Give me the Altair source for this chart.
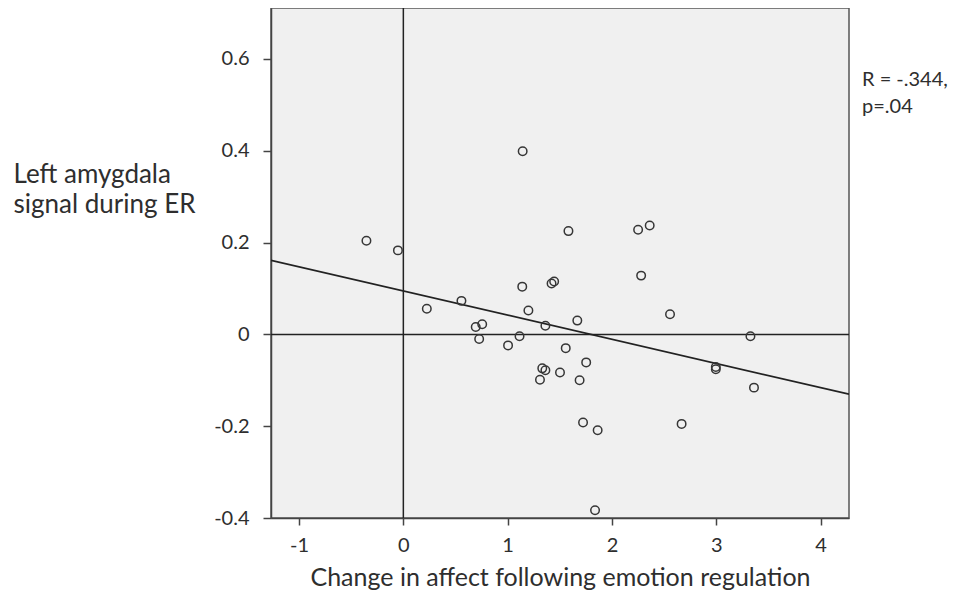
import altair as alt
import pandas as pd

# Data
change_in_affect = [1.144, -0.354, -0.052, 1.583, 2.251, 2.362, 2.280, 1.421, 1.446, 1.140,
                    0.557, 0.225, 1.199, 2.557, 1.668, 1.362, 0.694, 0.756, 1.114, 0.727,
                    1.004, 1.557, 3.328, 1.753, 1.332, 1.362, 1.502, 1.310, 1.690, 2.996,
                    2.996, 3.362, 1.723, 1.863, 2.668, 1.838]
amygdala_signal = [0.399, 0.204, 0.183, 0.225, 0.228, 0.237, 0.128, 0.111, 0.115, 0.104,
                   0.073, 0.056, 0.052, 0.044, 0.030, 0.019, 0.016, 0.022, -0.004, -0.010,
                   -0.024, -0.030, -0.004, -0.061, -0.074, -0.078, -0.083, -0.099, -0.100, -0.071,
                   -0.076, -0.116, -0.192, -0.209, -0.195, -0.383]

x_ticks = [-1, 0, 1, 2, 3, 4]
y_ticks = [-0.4, -0.2, 0, 0.2, 0.4, 0.6]
x_domain = [-1.269, 4.273]
y_domain = [-0.4, 0.711]
annotation = "R = -.344,\np=.04"

FONT = "Lato"
INK = "#2e2e2e"

df = pd.DataFrame({"x": change_in_affect, "y": amygdala_signal})

xscale = alt.Scale(domain=x_domain, nice=False, zero=False)
yscale = alt.Scale(domain=y_domain, nice=False, zero=False)

xaxis = alt.Axis(values=x_ticks, labelExpr="'' + datum.value", grid=False,
                 title="Change in affect following emotion regulation",
                 titleY=67, titleBaseline="alphabetic",
                 titleFontSize=25, titleFontWeight="normal", titleFont=FONT, titleColor=INK,
                 labelFontSize=20, labelFont=FONT, labelColor=INK, labelPadding=10,
                 tickSize=7, tickColor="#444444", domainColor="#444444", domainWidth=1.5,
                 tickWidth=1.5)
yaxis = alt.Axis(values=y_ticks, labelExpr="'' + datum.value", grid=False,
                 title=["Left amygdala", "signal during ER"],
                 titleAngle=0, titleAlign="left", titleBaseline="alphabetic",
                 titleX=-258, titleY=174, titleLineHeight=30,
                 titleFontSize=26, titleFontWeight="normal", titleFont=FONT, titleColor=INK,
                 labelFontSize=20, labelFont=FONT, labelColor=INK, labelPadding=14,
                 tickSize=8, tickColor="#444444", domainColor="#444444", domainWidth=1.5,
                 tickWidth=1.5)

points = alt.Chart(df).mark_point(shape="circle", filled=False, size=72,
                                  strokeWidth=1.5, color="#363636", opacity=1).encode(
    x=alt.X("x:Q", scale=xscale, axis=xaxis),
    y=alt.Y("y:Q", scale=yscale, axis=yaxis),
)

vline = alt.Chart(pd.DataFrame({"x": [0]})).mark_rule(color="#222222", strokeWidth=1.5).encode(
    x=alt.X("x:Q", scale=xscale))
hline = alt.Chart(pd.DataFrame({"y": [0]})).mark_rule(color="#222222", strokeWidth=1.5).encode(
    y=alt.Y("y:Q", scale=yscale))

fit = alt.Chart(df).transform_regression("x", "y", extent=x_domain).mark_line(
    color="#222222", strokeWidth=1.7, clip=True).encode(
    x=alt.X("x:Q", scale=xscale), y=alt.Y("y:Q", scale=yscale))

note = alt.Chart(pd.DataFrame({"t": [annotation]})).mark_text(
    align="left", baseline="alphabetic", fontSize=20, font=FONT, color=INK,
    lineBreak="\n", lineHeight=27).encode(
    text="t:N", x=alt.value(591), y=alt.value(78))

chart = alt.layer(vline, hline, fit, points, note).properties(
    width=578, height=510,
    autosize=alt.AutoSizeParams(type="none"),
    padding={"left": 263, "top": 0, "right": 113, "bottom": 72},
    background="white",
).configure_view(fill="#f0f0f0", stroke="#555555", strokeWidth=1.5)

chart.save("out.html", embed_options={"renderer": "svg", "actions": False})
